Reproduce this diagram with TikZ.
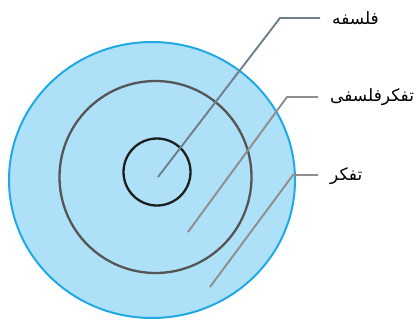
\documentclass[tikz,border=0pt]{standalone}
\usepackage{fontspec}
\newfontfamily\arabicfont[Script=Arabic]{DejaVu Sans}
\TeXXeTstate=1
\usetikzlibrary{positioning}

\definecolor{ringfill}{HTML}{AEE0F8}
\definecolor{ringblue}{HTML}{1FA9E6}
\definecolor{midgray}{HTML}{555555}
\definecolor{coregray}{HTML}{1E1E1E}
\definecolor{leadslate}{HTML}{6F7F88}
\definecolor{leadgray}{HTML}{8E8E8E}

\tikzset{
  leader/.style={line width=1.9pt, draw=leadgray},
  lbl/.style={anchor=west, inner xsep=12pt, inner ysep=0pt, font=\arabicfont\fontsize{17}{20}\selectfont}
}

\begin{document}
\begin{tikzpicture}[x=1pt,y=-1pt]
            \useasboundingbox (0,0) rectangle (417,321);
            \def\rmid{96}   % middle ring
            \def\rcore{33.5}  % inner ring
            \filldraw[fill=ringfill, draw=ringblue, line width=2pt] (152,180) ellipse [x radius=143, y radius=138];
            \draw[midgray, line width=2.3pt] (155.5,177) circle [radius=\rmid];
            \draw[coregray, line width=2.3pt] (157,172) circle [radius=\rcore];
            % labels
            \node[lbl] (falsafe) at (320,18) {\beginR فلسفه\endR};
            \node[lbl] (tafakkorf) at (318,97) {\beginR تفکرفلسفی\endR};
            \node[lbl] (tafakkor) at (318,176) {\beginR تفکر\endR};
            % leader ends
            \coordinate (p1) at (158,177);
            \coordinate (k1) at (280,18);
            \coordinate (p2) at (188,232);
            \coordinate (k2) at (287,97);
            \coordinate (p3) at (210,287);
            \coordinate (k3) at (293,175);
            \draw[leader, draw=leadslate] (p1) -- (k1) -- (k1 -| falsafe.west);
            \draw[leader] (p2) -- (k2) -- (k2 -| tafakkorf.west);
            \draw[leader] (p3) -- (k3) -- (k3 -| tafakkor.west);
        \end{tikzpicture}
\end{document}
